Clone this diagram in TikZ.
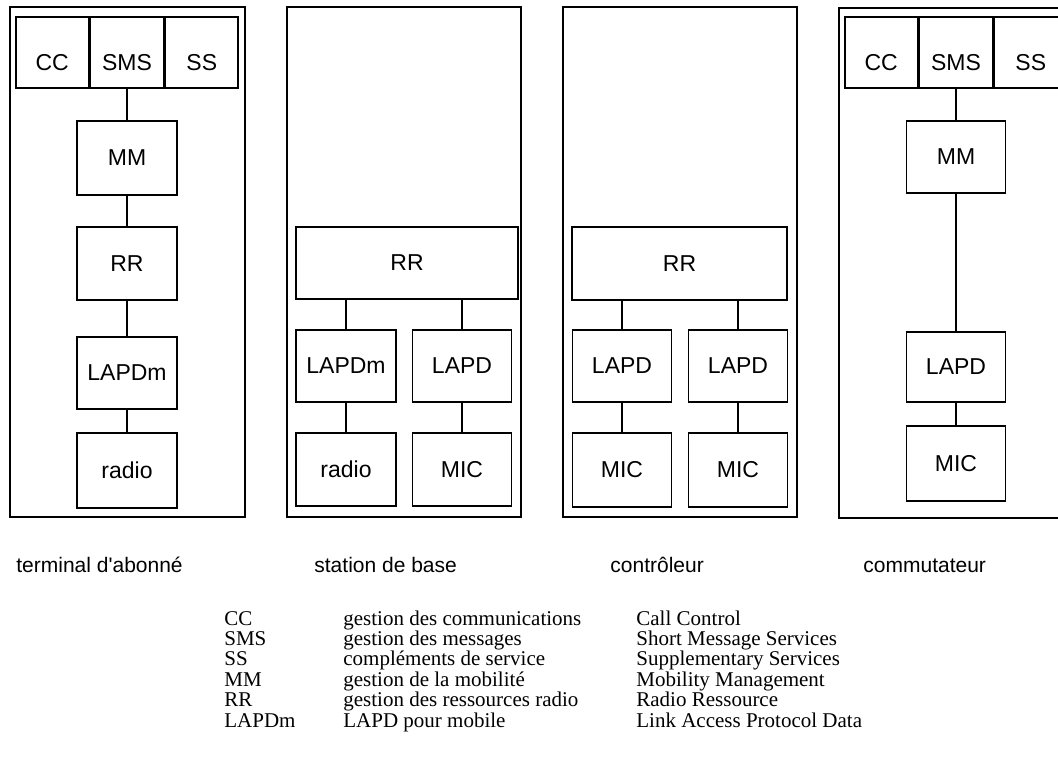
\documentclass[tikz,border=0pt]{standalone}
\usepackage{fontspec}
\setmainfont{Liberation Serif}
\setsansfont{Liberation Sans}
\usetikzlibrary{positioning}

\tikzset{
  frame/.style={draw, line width=0.9pt, inner sep=0pt, minimum height=255pt},
  layer/.style={draw, line width=0.9pt, inner sep=0pt, font=\sffamily\fontsize{11.5}{12}\selectfont},
  cell/.style={layer, minimum width=36.5pt, minimum height=35.5pt, text height=17.5pt, text depth=0pt},
  site/.style={inner sep=0pt, anchor=base west, font=\sffamily\fontsize{10.5}{12}\selectfont},
  legend/.style={inner sep=0pt, anchor=base west, font=\fontsize{10.5}{10.5}\selectfont},
  link/.style={line width=1pt}
}

\begin{document}
\begin{tikzpicture}[x=0.5pt, y=-0.5pt]
        \useasboundingbox (0,0) rectangle (1058,778);
        \clip (0,0) rectangle (1058,778);

        % terminal d'abonne
        \node[frame, minimum width=117.5pt] (term) at (127.5,262) {};
        \node[cell]             (t-sms) at (127,52.5) {SMS};
        \node[cell, left=0pt of t-sms]  (t-cc) {CC};
        \node[cell, right=0pt of t-sms] (t-ss) {SS};
        \node[layer, minimum width=50pt, minimum height=37pt]   (t-mm)    at (127,158)   {MM};
        \node[layer, minimum width=50pt, minimum height=36.5pt] (t-rr)    at (127,263.5) {RR};
        \node[layer, minimum width=50pt, minimum height=36pt]   (t-lapdm) at (127,373)   {LAPDm};
        \node[layer, minimum width=50pt, minimum height=37.5pt] (t-radio) at (127,470.5) {radio};

        \draw[link] (t-sms) -- (t-mm) (t-mm) -- (t-rr) (t-rr) -- (t-lapdm) (t-lapdm) -- (t-radio);

        % station de base
        \node[frame, minimum width=117pt] (sb) at (404,262) {};
        \node[layer, minimum width=111pt, minimum height=36pt]    (s-rr)    at (407,263)     {RR};
        \node[layer, minimum width=50pt, minimum height=36pt]     (s-lapdm) at (346,366)     {LAPDm};
        \node[layer, minimum width=49.5pt, minimum height=36pt]   (s-lapd)  at (462,366)   {LAPD};
        \node[layer, minimum width=50pt, minimum height=36.5pt]   (s-radio) at (346,469.5)   {radio};
        \node[layer, minimum width=49.5pt, minimum height=36.5pt] (s-mic)   at (462,469.5) {MIC};

        \draw[link] (s-lapdm) -- (s-lapdm |- s-rr.south) (s-lapd) -- (s-lapd |- s-rr.south)
            (s-lapdm) -- (s-radio) (s-lapd) -- (s-mic);

        % controleur
        \node[frame, minimum width=117pt] (ctl) at (680,262) {};
        \node[layer, minimum width=107.5pt, minimum height=36.5pt] (c-rr)  at (679.5,263.5) {RR};
        \node[layer, minimum width=49.5pt, minimum height=36pt]    (c-lapd1) at (622,366) {LAPD};
        \node[layer, minimum width=49.5pt, minimum height=36pt]    (c-lapd2) at (738,366) {LAPD};
        \node[layer, minimum width=49.5pt, minimum height=37pt]    (c-mic1)  at (622,470) {MIC};
        \node[layer, minimum width=49.5pt, minimum height=37pt]    (c-mic2)  at (738,470) {MIC};

        \draw[link] (c-lapd1) -- (c-lapd1 |- c-rr.south) (c-lapd2) -- (c-lapd2 |- c-rr.south)
            (c-lapd1) -- (c-mic1) (c-lapd2) -- (c-mic2);

        % commutateur
        \node[frame, minimum width=117.5pt] (msc) at (956.5,263) {};
        \node[cell]             (m-sms) at (956,52.5) {SMS};
        \node[cell, left=0pt of m-sms]  (m-cc) {CC};
        \node[cell, right=0pt of m-sms] (m-ss) {SS};
        \node[layer, minimum width=49.5pt, minimum height=36pt]   (m-mm)   at (956,157)   {MM};
        \node[layer, minimum width=49.5pt, minimum height=35pt]   (m-lapd) at (956,367)   {LAPD};
        \node[layer, minimum width=49.5pt, minimum height=37.5pt] (m-mic)  at (956,463.5) {MIC};

        \draw[link] (m-sms) -- (m-mm) (m-mm) -- (m-lapd) (m-lapd) -- (m-mic);

        % names of the sites
        \node[site] (n-term) at (16,572)  {terminal d\textquotesingle abonné};
        \node[site] (n-sb)   at (314,572) {station de base};
        \node[site] (n-ctl)  at (610,572) {contrôleur};
        \node[site] (n-msc)  at (863,572) {commutateur};

        % legend
        \foreach \abbr/\fr/\en [count=\i] in {
            CC/gestion des communications/Call Control,
            SMS/gestion des messages/Short Message Services,
            SS/compléments de service/Supplementary Services,
            MM/gestion de la mobilité/Mobility Management,
            RR/gestion des ressources radio/Radio Ressource,
            LAPDm/LAPD pour mobile/Link Access Protocol Data}{
            \node[legend] (abbr-\i) at (224,604.6+20.4*\i) {\abbr};
            \node[legend] (fr-\i)   at (343,604.6+20.4*\i) {\fr};
            \node[legend] (en-\i)   at (636,604.6+20.4*\i) {\en};
        }
\end{tikzpicture}
\end{document}
